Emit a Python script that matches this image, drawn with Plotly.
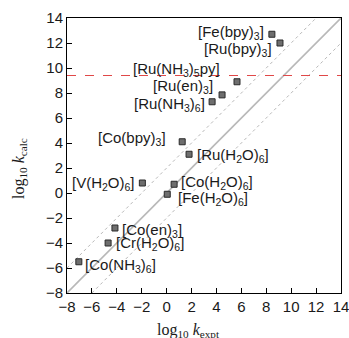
import plotly.graph_objects as go

names = ["[Fe(bpy)<sub>3</sub>]", "[Ru(bpy)<sub>3</sub>]", "[Ru(NH<sub>3</sub>)<sub>5</sub>py]",
         "[Ru(en)<sub>3</sub>]", "[Ru(NH<sub>3</sub>)<sub>6</sub>]", "[Co(bpy)<sub>3</sub>]",
         "[Ru(H<sub>2</sub>O)<sub>6</sub>]", "[V(H<sub>2</sub>O)<sub>6</sub>]", "[Co(H<sub>2</sub>O)<sub>6</sub>]",
         "[Fe(H<sub>2</sub>O)<sub>6</sub>]", "[Co(en)<sub>3</sub>]", "[Cr(H<sub>2</sub>O)<sub>6</sub>]",
         "[Co(NH<sub>3</sub>)<sub>6</sub>]"]
log_k_expt = [8.45, 9.1, 5.65, 4.45, 3.65, 1.25, 1.8, -1.95, 0.6, 0.05, -4.15, -4.7, -7.05]
log_k_calc = [12.7, 12.0, 8.9, 7.85, 7.3, 4.1, 3.1, 0.8, 0.7, -0.1, -2.8, -4.0, -5.5]
# label placement: (xanchor, xshift, yshift)
label_pos = [("right", -6, 2), ("right", -6, -6), ("right", -15, 12), ("right", -7, 8),
             ("right", -5, -3), ("right", -14, 3), ("left", 6, -1), ("right", -5, 0),
             ("left", 5, 2), ("left", 9, -4), ("left", 5, -2), ("left", 6, 0), ("left", 4, -4)]

axis_min, axis_max = -8, 14
ticks = list(range(-8, 15, 2))
parity_offsets = [0, 2, -2]
threshold = 9.4

fig = go.Figure()

for off in parity_offsets:
    x0 = max(axis_min, axis_min - off)
    x1 = min(axis_max, axis_max - off)
    fig.add_trace(go.Scatter(
        x=[x0, x1], y=[x0 + off, x1 + off], mode="lines",
        line=dict(color="#b8b8b8", width=1.6 if off == 0 else 1, dash="solid" if off == 0 else "dot"),
        hoverinfo="skip", showlegend=False))

fig.add_trace(go.Scatter(
    x=[axis_min, axis_max], y=[threshold, threshold], mode="lines",
    line=dict(color="#e04848", width=1.2, dash="dash"), showlegend=False, hoverinfo="skip"))

fig.add_trace(go.Scatter(
    x=log_k_expt, y=log_k_calc, mode="markers",
    marker=dict(symbol="square", size=6, color="#6e6e6e", line=dict(color="#2a2a2a", width=1)),
    showlegend=False, hoverinfo="skip"))

for n, xv, yv, (xa, xs, ys) in zip(names, log_k_expt, log_k_calc, label_pos):
    fig.add_annotation(x=xv, y=yv, text=n, showarrow=False, xanchor=xa, yanchor="middle",
                       xshift=xs, yshift=ys,
                       font=dict(family="Liberation Sans, Arial", size=15, color="#1a1a1a"))

title_font = dict(family="Liberation Serif, Times New Roman", size=16, color="#1a1a1a")
fig.add_annotation(xref="paper", yref="paper", x=0.445, y=0, yshift=-37, xanchor="center",
                   yanchor="middle", showarrow=False, font=title_font,
                   text="log<sub>10</sub> <i>k</i><sub>expt</sub>")
fig.add_annotation(xref="paper", yref="paper", x=0, y=0.451, xshift=-47, xanchor="center",
                   yanchor="middle", showarrow=False, font=title_font, textangle=-90,
                   text="log<sub>10</sub> <i>k</i><sub>calc</sub>")

axis_common = dict(range=[axis_min, axis_max], tickvals=ticks, ticks="inside", ticklen=5,
                   tickcolor="black", showgrid=False, zeroline=False, showline=True,
                   linecolor="black", linewidth=1, mirror=True, automargin=False,
                   ticklabeloverflow="allow",
                   tickfont=dict(family="Liberation Sans, Arial", size=15, color="#1a1a1a"))

fig.update_layout(
    width=349, height=338,
    margin=dict(l=67, r=8, t=18, b=45),
    paper_bgcolor="white", plot_bgcolor="white",
    hovermode=False,
    xaxis=dict(**axis_common),
    yaxis=dict(**axis_common),
)

fig.write_html("out.html", config={"displayModeBar": False, "staticPlot": True},
               post_script="document.body.style.margin='0';document.body.style.overflow='hidden';")
